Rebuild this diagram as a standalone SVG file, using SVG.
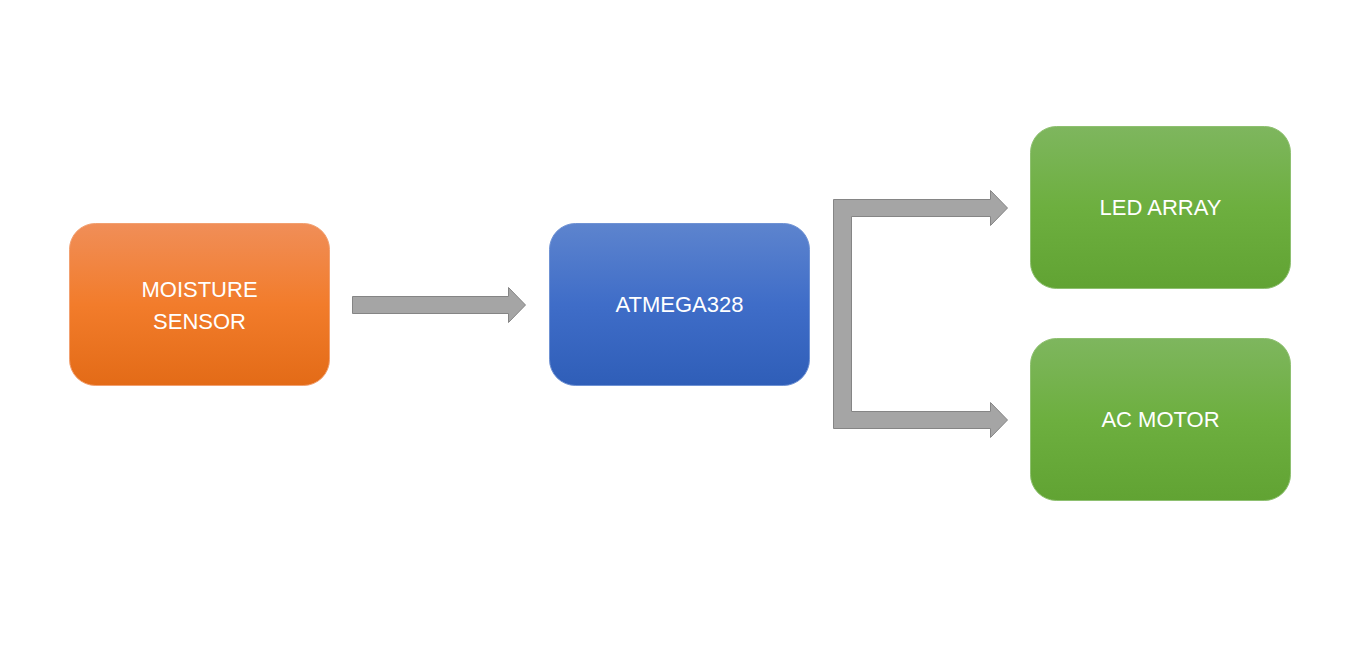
<svg xmlns="http://www.w3.org/2000/svg" width="1359" height="651" viewBox="0 0 1359 651">
<defs>
<linearGradient id="gOrange" x1="0" y1="0" x2="0" y2="1">
<stop offset="0" stop-color="#F08E58"/><stop offset="0.5" stop-color="#F27C2B"/><stop offset="1" stop-color="#E36B17"/>
</linearGradient>
<linearGradient id="gBlue" x1="0" y1="0" x2="0" y2="1">
<stop offset="0" stop-color="#5D84CE"/><stop offset="0.5" stop-color="#3F6DC8"/><stop offset="1" stop-color="#2F5EB8"/>
</linearGradient>
<linearGradient id="gGreen" x1="0" y1="0" x2="0" y2="1">
<stop offset="0" stop-color="#7EB65E"/><stop offset="0.5" stop-color="#6DAF3F"/><stop offset="1" stop-color="#61A333"/>
</linearGradient>
</defs>
<style>
.box{stroke-width:1}
.lbl{font-family:"Liberation Sans",Arial,sans-serif;font-size:22px;fill:#FFFFFF;text-anchor:middle}
.arrow{fill:#A5A5A5;stroke:#858585;stroke-width:1}
</style>
<rect width="1359" height="651" fill="#FFFFFF"/>
<g id="connectors">
<path class="arrow" d="M352.5,296.5 H508.5 V287.5 L525.5,305 L508.5,322.5 V313.5 H352.5 Z"/>
<path class="arrow" d="M833.5,199.5 H990.5 V190.5 L1007.5,208 L990.5,225.5 V216.5 H851.5 V411.5 H990.5 V402.5 L1007.5,420 L990.5,437.5 V428.5 H833.5 Z"/>
</g>
<g id="node-moisture">
<rect class="box" x="69.5" y="223.5" width="260" height="162" rx="26" fill="url(#gOrange)" stroke="#F2A070"/>
<text class="lbl" x="199.5" y="297">MOISTURE</text>
<text class="lbl" x="199.5" y="329">SENSOR</text>
</g>
<g id="node-atmega">
<rect class="box" x="549.5" y="223.5" width="260" height="162" rx="26" fill="url(#gBlue)" stroke="#6F92D4"/>
<text class="lbl" x="679.5" y="312">ATMEGA328</text>
</g>
<g id="node-led">
<rect class="box" x="1030.5" y="126.5" width="260" height="162" rx="26" fill="url(#gGreen)" stroke="#8EC070"/>
<text class="lbl" x="1160.5" y="215">LED ARRAY</text>
</g>
<g id="node-motor">
<rect class="box" x="1030.5" y="338.5" width="260" height="162" rx="26" fill="url(#gGreen)" stroke="#8EC070"/>
<text class="lbl" x="1160.5" y="427">AC MOTOR</text>
</g>
</svg>
